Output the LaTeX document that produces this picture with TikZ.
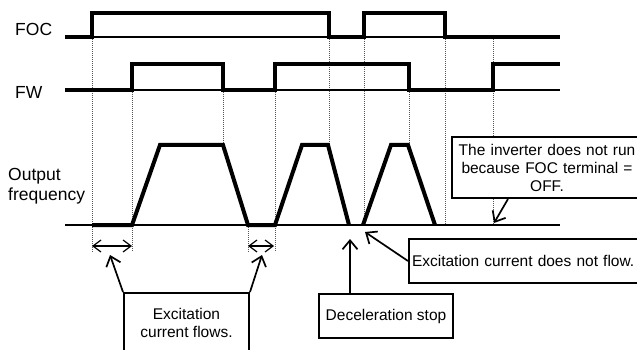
\documentclass[tikz,border=0pt]{standalone}
\usepackage{fontspec}
\setmainfont{Liberation Sans}
\usetikzlibrary{arrows.meta, positioning}
\definecolor{guidegray}{HTML}{555555}

\begin{document}
\begin{tikzpicture}[x=1pt, y=-1pt,
    sig/.style={line width=4pt, line join=miter},
    base/.style={line width=1.5pt},
    guide/.style={guidegray, line width=0.8pt, dash pattern=on 1pt off 1pt},
    span/.style={{Straight Barb[length=8pt, width=12pt]}-{Straight Barb[length=8pt, width=12pt]}, line width=1.2pt},
    note/.style={draw, line width=2pt, fill=white, inner sep=3pt,
                 font=\fontsize{15.5}{18}\selectfont},
    lbl/.style={font=\fontsize{17.5}{20}\selectfont, inner sep=0pt},
    call/.style={-{Straight Barb[length=9pt, width=15pt]}, line width=1.7pt},
]
    \useasboundingbox (0,0) rectangle (637,350);

    % signal names
    \node[lbl, anchor=west] (foc) at (15,29) {FOC};
    \node[lbl, anchor=west] (fw) at (15,92) {FW};
    \node[lbl, anchor=west, align=left] (fout) at (8,186) {Output\\frequency};

    % dotted guides at the switching instants
    \draw[guide] (92,37) -- (92,252);
    \draw[guide] (132,90) -- (132,252);
    \draw[guide] (223,90) -- (223,145);
    \draw[guide] (248,225) -- (248,252);
    \draw[guide] (275,90) -- (275,252);
    \draw[guide] (329,37) -- (329,145);
    \draw[guide] (364,37) -- (364,225);
    \draw[guide] (409,90) -- (409,145);
    \draw[guide] (445,37) -- (445,225);
    \draw[guide] (493,37) -- (493,225);

    % zero lines
    \draw[base] (65,37) -- (560,37);
    \draw[base] (65,90) -- (560,90);
    \draw[base] (65,225) -- (560,225);

    % FOC
    \draw[sig] (65,37) -- (92,37) |- (329,13) -- (329,37) -- (364,37)
        |- (445,13) -- (445,37) -- (560,37);
    % FW
    \draw[sig] (65,90) -- (132,90) |- (223,64) -- (223,90) -- (275,90)
        |- (409,64) -- (409,90) -- (493,90) |- (560,64);
    % output frequency
    \draw[sig] (92,225) -- (132,225) -- (160,145) -- (223,145) -- (248,225)
        -- (275,225) -- (302,145) -- (328,145) -- (349,225);
    \draw[sig] (363,225) -- (391,145) -- (408,145) -- (435,225);

    % excitation intervals
    \coordinate (ex1a) at (92,246);
    \coordinate (ex1b) at (132,246);
    \coordinate (ex2a) at (248,246);
    \coordinate (ex2b) at (274,246);
    \draw[span] (ex1a) -- (ex1b);
    \draw[span] (ex2a) -- (ex2b);

    % callouts (the two on the right run off the page edge)
    \node[note, minimum width=125pt, minimum height=60pt, align=center,
          anchor=north west] (flows) at (123,292) {Excitation\\current flows.};
    \node[note, minimum width=134pt, minimum height=44pt,
          anchor=north west] (decel) at (318,293) {Deceleration stop};
    \node[note, text width=260pt, minimum height=44pt, align=left,
          anchor=north west] (noflow) at (408,238) {Excitation current does not flow.};
    \node[note, text width=240pt, minimum height=61pt, align=left,
          anchor=north west] (norun) at (451,136)
          {\parbox{184pt}{\centering The inverter does not run\\because FOC terminal =\\OFF.}};

    \coordinate (tipA) at (110,255);
    \coordinate (tipB) at (262,255);
    \coordinate (tipC) at (350,239);
    \coordinate (tipD) at (365,232);
    \coordinate (tipE) at (494,223);
    \draw[call] (flows.north west) -- (tipA);
    \draw[call] (flows.north east) -- (tipB);
    \draw[call] (decel.north -| tipC) -- (tipC);
    \draw[call] (noflow.west) -- (tipD);
    \draw[call] ([xshift=57pt]norun.south west) -- (tipE);
\end{tikzpicture}
\end{document}
